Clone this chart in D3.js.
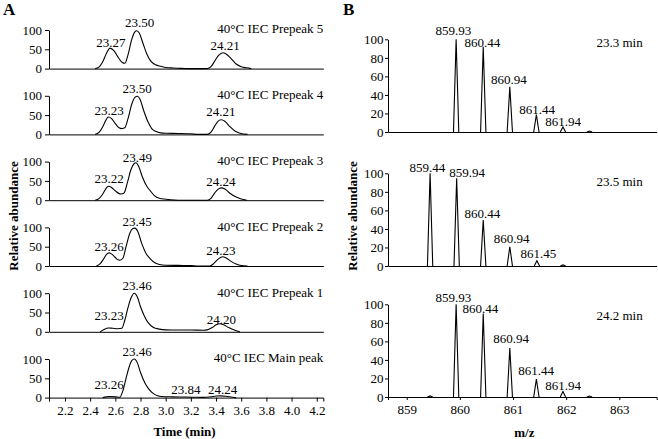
<!DOCTYPE html>
<html><head><meta charset="utf-8">
<script src="https://cdn.jsdelivr.net/npm/d3@7"></script>
<style>
body{margin:0;background:#fff}
svg text{font-family:"Liberation Serif","Times New Roman",serif;fill:#000}
</style>
</head><body>
<svg id="c" width="658" height="439"></svg>
<script>
// ---------- Panel A data (time in min, relative abundance) ----------
const aTitles = ["40°C IEC Prepeak 5","40°C IEC Prepeak 4","40°C IEC Prepeak 3","40°C IEC Prepeak 2","40°C IEC Prepeak 1","40°C IEC Main peak"];
const prepeak5 = [[2.44,0],[2.47,4],[2.50,18],[2.53,40],[2.558,53],[2.59,46],[2.625,28],[2.655,16],[2.677,14],[2.70,35],[2.73,75],[2.755,95],[2.77,98],[2.79,92],[2.82,65],[2.85,38],[2.88,20],[2.92,10],[2.96,6],[3.00,3],[3.06,1.5],[3.12,0.5],[3.2,0],[3.33,0],[3.36,5],[3.39,20],[3.42,34],[3.454,41],[3.48,38],[3.52,26],[3.56,12],[3.60,5],[3.64,2],[3.68,0]];
const prepeak4 = [[2.44,0],[2.47,5],[2.50,20],[2.525,37],[2.544,45],[2.57,41],[2.60,28],[2.63,17],[2.651,15],[2.675,17],[2.70,40],[2.73,78],[2.755,96],[2.775,99],[2.795,92],[2.825,62],[2.86,32],[2.889,15],[2.92,8],[2.96,4],[3.00,3],[3.10,2.5],[3.20,1.5],[3.26,0],[3.33,0],[3.36,6],[3.39,22],[3.415,34],[3.44,38],[3.47,34],[3.51,20],[3.55,9],[3.59,3],[3.65,0]];
const prepeak3 = [[2.44,0],[2.47,4],[2.50,16],[2.525,30],[2.544,36],[2.57,33],[2.60,24],[2.63,17],[2.645,16],[2.67,19],[2.695,45],[2.725,80],[2.75,95],[2.764,97],[2.785,88],[2.815,60],[2.85,36],[2.876,25],[2.91,12],[2.95,5],[3.0,2.5],[3.04,1],[3.10,0],[3.33,0],[3.36,5],[3.39,19],[3.415,28],[3.44,32],[3.47,29],[3.51,18],[3.56,8],[3.60,3],[3.645,0]];
const prepeak2 = [[2.45,0],[2.48,6],[2.51,20],[2.53,30],[2.55,34],[2.575,30],[2.60,22],[2.62,16],[2.637,15],[2.66,20],[2.685,50],[2.715,85],[2.74,97],[2.756,98],[2.78,88],[2.81,58],[2.845,32],[2.876,19],[2.91,9],[2.95,4],[3.0,2],[3.1,1.5],[3.2,1],[3.26,0],[3.35,0],[3.38,6],[3.41,16],[3.435,22],[3.454,24],[3.48,21],[3.52,12],[3.56,5],[3.59,2],[3.65,0]];
const prepeak1 = [[2.48,0],[2.51,6],[2.544,10],[2.58,9],[2.62,8],[2.651,9],[2.675,30],[2.70,62],[2.725,88],[2.751,100],[2.775,90],[2.80,65],[2.835,38],[2.862,23],[2.90,12],[2.95,7],[3.0,5],[3.1,4.5],[3.2,4.5],[3.3,4],[3.33,5],[3.37,11],[3.40,18],[3.432,21],[3.46,18],[3.50,11],[3.55,4],[3.59,0]];
const mainPeak = [[2.50,0],[2.53,2],[2.56,2.5],[2.60,2],[2.635,1],[2.66,18],[2.685,50],[2.71,80],[2.73,96],[2.751,100],[2.775,90],[2.80,65],[2.835,38],[2.862,24],[2.90,11],[2.935,5],[2.97,3],[3.05,2],[3.15,1.5],[3.22,1],[3.30,0.5],[3.36,2],[3.40,4],[3.44,4.5],[3.48,3.5],[3.53,1],[3.56,0]];
const aTraces = [prepeak5, prepeak4, prepeak3, prepeak2, prepeak1, mainPeak];
// peak annotations: [text, time anchor, abundance anchor]
const labels5 = [["23.27",2.564,56.8],["23.50",2.792,107],["24.21",3.473,48.3]];
const labels4 = [["23.23",2.551,49],["23.50",2.774,106.7],["24.21",3.439,46.5]];
const labels3 = [["23.22",2.551,45],["23.49",2.776,99.5],["24.24",3.439,35.6]];
const labels2 = [["23.26",2.551,39],["23.45",2.774,102.5],["24.23",3.439,28]];
const labels1 = [["23.23",2.551,30.5],["23.46",2.774,108.6],["24.20",3.442,20]];
const labelsMain = [["23.26",2.551,23.5],["23.46",2.774,107.8],["23.84",3.160,10.4],["24.24",3.452,10.4]];
const aLabels = [labels5, labels4, labels3, labels2, labels1, labelsMain];
const aTimeTicks = [2.2,2.4,2.6,2.8,3.0,3.2,3.4,3.6,3.8,4.0,4.2];
const aYTicks = [0,50,100];

// ---------- Panel B data (m/z, relative abundance) ----------
const bTitles = ["23.3 min","23.5 min","24.2 min"];
const spec233 = [[859.93,100],[860.44,92],[860.94,48.7],[861.44,18.8],[861.94,5.4],[862.44,1]];
const spec235 = [[859.44,100],[859.94,94.6],[860.44,49.6],[860.94,20.8],[861.45,5.7],[861.94,1.2]];
const spec242 = [[859.44,1.2],[859.93,100],[860.44,90],[860.94,52.7],[861.44,19.3],[861.94,6],[862.44,1]];
const bSpectra = [spec233, spec235, spec242];
const bLab233 = [["859.93",859.877,104.7],["860.44",860.426,92],["860.94",860.921,51.3],["861.44",861.455,19.9],["861.94",861.944,6.2]];
const bLab235 = [["859.44",859.391,101],["859.94",860.138,95.7],["860.44",860.426,52.1],["860.94",860.975,24.5],["861.45",861.476,9]];
const bLab242 = [["859.93",859.877,102.2],["860.44",860.388,91],["860.94",860.966,58],["861.44",861.437,23.2],["861.94",861.944,7.8]];
const bLabels = [bLab233, bLab235, bLab242];
const bMzTicks = [859,860,861,862,863];
const bYTicks = [0,20,40,60,80,100];

// ---------- layout ----------
const L = {
  aX0:49, aX1:323.3, aTop0:30, aStep:65.8, aH:38.6,
  bX0:388, bX1:656.7, bTops:[39.3,173.3,304.3], bH:92.7, bTitleDy:[7.4,12.7,15.7]
};
const FONT = 13;

const svg = d3.select("#c");
function styleAxis(g){
  g.attr("font-family",'"Liberation Serif","Times New Roman",serif').attr("font-size",FONT);
  g.selectAll("text").attr("fill","#000");
  g.selectAll("path,line").attr("stroke","#000");
}

// ---------- Panel A ----------
const xA = d3.scaleLinear().domain([2.073, 4.252]).range([L.aX0, L.aX1]);
aTraces.forEach((tr, i) => {
  const top = L.aTop0 + i * L.aStep;
  const y = d3.scaleLinear().domain([0,100]).range([top + L.aH, top]);
  const g = svg.append("g");
  g.append("g").attr("transform",`translate(${L.aX0},0)`)
    .call(d3.axisLeft(y).tickValues(aYTicks).tickSize(4).tickPadding(3).tickSizeOuter(0)).call(styleAxis);
  const last = i === aTraces.length - 1;
  const ax = d3.axisBottom(xA).tickSizeOuter(0);
  if (last) ax.tickValues(aTimeTicks).tickFormat(d3.format(".1f")).tickSize(4).tickPadding(4.5);
  else ax.tickValues([]);
  g.append("g").attr("transform",`translate(0,${top + L.aH})`).call(ax).call(styleAxis);
  g.append("path").datum(tr)
    .attr("d", d3.line().x(d => xA(d[0])).y(d => y(d[1])).curve(d3.curveMonotoneX))
    .attr("fill","none").attr("stroke","#000").attr("stroke-width",1.1);
  g.selectAll("text.pk").data(aLabels[i]).join("text").attr("class","pk")
    .attr("x", d => xA(d[1])).attr("y", d => y(d[2]))
    .attr("text-anchor","middle").attr("font-size",FONT).text(d => d[0]);
  g.append("text").attr("x", L.aX1).attr("y", y(100) + 3.4)
    .attr("text-anchor","end").attr("font-size",FONT).text(aTitles[i]);
});

// ---------- Panel B ----------
const xB = d3.scaleLinear().domain([858.648, 863.704]).range([L.bX0, L.bX1]);
const w = 0.05;
bSpectra.forEach((sp, i) => {
  const top = L.bTops[i];
  const y = d3.scaleLinear().domain([0,100]).range([top + L.bH, top]);
  const g = svg.append("g");
  g.append("g").attr("transform",`translate(${L.bX0},0)`)
    .call(d3.axisLeft(y).tickValues(bYTicks).tickSize(3).tickPadding(1.5).tickSizeOuter(0)).call(styleAxis);
  const last = i === bSpectra.length - 1;
  const ax = d3.axisBottom(xB).tickSizeOuter(0);
  if (last) ax.tickValues(bMzTicks).tickFormat(d3.format("d")).tickSize(3).tickPadding(5);
  else ax.tickValues([]);
  g.append("g").attr("transform",`translate(0,${top + L.bH})`).call(ax).call(styleAxis);
  const line = d3.line().x(d => xB(d[0])).y(d => y(d[1]));
  g.selectAll("path.pk").data(sp).join("path").attr("class","pk")
    .attr("d", d => line([[d[0]-w,0],[d[0],d[1]],[d[0]+w,0]]))
    .attr("fill","none").attr("stroke","#000").attr("stroke-width",1.1).attr("stroke-linejoin","miter");
  g.selectAll("text.pl").data(bLabels[i]).join("text").attr("class","pl")
    .attr("x", d => xB(d[1])).attr("y", d => y(d[2]))
    .attr("text-anchor","middle").attr("font-size",FONT).text(d => d[0]);
  g.append("text").attr("x", 642.7).attr("y", top + L.bTitleDy[i])
    .attr("text-anchor","end").attr("font-size",FONT).text(bTitles[i]);
});

// ---------- titles ----------
svg.append("text").attr("x",3).attr("y",15).attr("font-size",17).attr("font-weight","bold").text("A");
svg.append("text").attr("x",343).attr("y",15).attr("font-size",17).attr("font-weight","bold").text("B");
svg.append("text").attr("x",184.5).attr("y",436).attr("text-anchor","middle").attr("font-size",FONT).attr("font-weight","bold").text("Time (min)");
svg.append("text").attr("x",524.3).attr("y",437).attr("text-anchor","middle").attr("font-size",FONT).attr("font-weight","bold").text("m/z");
svg.append("text").attr("transform","translate(18,216) rotate(-90)").attr("text-anchor","middle").attr("font-size",FONT).attr("font-weight","bold").text("Relative abundance");
svg.append("text").attr("transform","translate(356.5,216) rotate(-90)").attr("text-anchor","middle").attr("font-size",FONT).attr("font-weight","bold").text("Relative abundance");
</script>
</body></html>
